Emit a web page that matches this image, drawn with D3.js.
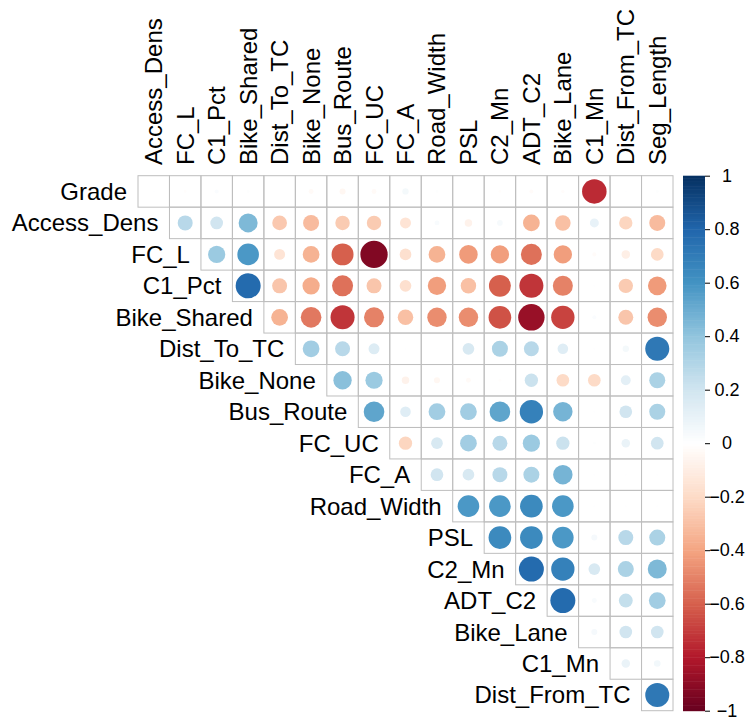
<!DOCTYPE html>
<html>
<head>
<meta charset="utf-8">
<script src="https://cdn.jsdelivr.net/npm/d3@7"></script>
<style>
  body { margin: 0; background: #fff; }
  text { font-family: "Liberation Sans", Arial, sans-serif; fill: #000; }
</style>
</head>
<body>
<div id="chart"></div>
<script>
const rowLabels = ["Grade", "Access_Dens", "FC_L", "C1_Pct", "Bike_Shared", "Dist_To_TC",
  "Bike_None", "Bus_Route", "FC_UC", "FC_A", "Road_Width", "PSL", "C2_Mn", "ADT_C2",
  "Bike_Lane", "C1_Mn", "Dist_From_TC"];
const colLabels = ["Access_Dens", "FC_L", "C1_Pct", "Bike_Shared", "Dist_To_TC", "Bike_None",
  "Bus_Route", "FC_UC", "FC_A", "Road_Width", "PSL", "C2_Mn", "ADT_C2", "Bike_Lane",
  "C1_Mn", "Dist_From_TC", "Seg_Length"];

// correlations, row i holds columns i..16
const corrRows = [
  [0.005, -0.01, 0.02, 0.01, 0.0, -0.03, -0.045, -0.03, 0.05, 0.01, 0.0, -0.01, -0.02, -0.015, -0.75, 0.005, 0.01],
  [0.28, 0.2, 0.45, -0.27, -0.32, -0.26, -0.26, -0.15, 0.03, -0.07, 0.04, -0.35, -0.3, 0.1, -0.22, -0.32],
  [0.37, 0.58, -0.15, -0.35, -0.6, -0.93, -0.17, -0.35, -0.43, -0.42, -0.55, -0.42, -0.02, -0.09, -0.2],
  [0.78, -0.28, -0.37, -0.55, -0.28, -0.17, -0.42, -0.3, -0.6, -0.72, -0.5, 0.005, -0.26, -0.43],
  [-0.35, -0.53, -0.72, -0.5, -0.3, -0.47, -0.47, -0.64, -0.87, -0.68, 0.02, -0.28, -0.47],
  [0.35, 0.28, 0.15, 0.005, 0.003, 0.17, 0.32, 0.28, 0.14, 0.005, 0.05, 0.72],
  [0.42, 0.37, -0.07, -0.045, -0.03, -0.01, 0.22, -0.2, -0.2, 0.12, 0.32],
  [0.53, 0.14, 0.35, 0.35, 0.53, 0.68, 0.47, 0.005, 0.2, 0.32],
  [-0.22, 0.17, 0.35, 0.28, 0.37, 0.22, 0.01, 0.09, 0.2],
  [0.2, 0.17, 0.28, 0.32, 0.47, 0.005, 0.005, 0.005],
  [0.58, 0.58, 0.64, 0.58, 0.005, 0.005, 0.005],
  [0.64, 0.64, 0.58, 0.045, 0.28, 0.32],
  [0.78, 0.68, 0.17, 0.32, 0.45],
  [0.78, 0.03, 0.24, 0.35],
  [0.045, 0.2, 0.2],
  [0.09, 0.055],
  [0.72]
];
const legendTicks = [1, 0.8, 0.6, 0.4, 0.2, 0, -0.2, -0.4, -0.6, -0.8, -1];
const palette = ["#67001F", "#B2182B", "#D6604D", "#F4A582", "#FDDBC7", "#FFFFFF",
  "#D1E5F0", "#92C5DE", "#4393C3", "#2166AC", "#053061"];

const svgWidth = 747;
const svgHeight = 723;

const svg = d3.select("#chart")
  .append("svg")
  .attr("width", svgWidth)
  .attr("height", svgHeight);

const x = d3.scaleBand().domain(colLabels).range([138, 673]);
const y = d3.scaleBand().domain(rowLabels).range([175.7, 710.7]);
const color = d3.scaleLinear()
  .domain(d3.range(11).map((i) => -1 + i * 0.2))
  .range(palette)
  .interpolate(d3.interpolateRgb);

const cells = [];
corrRows.forEach((vals, i) => {
  vals.forEach((v, k) => {
    cells.push({ row: rowLabels[i], col: colLabels[i + k], value: v });
  });
});

const bw = x.bandwidth();

svg.append("g")
  .selectAll("rect")
  .data(cells)
  .enter()
  .append("rect")
  .attr("x", (d) => x(d.col))
  .attr("y", (d) => y(d.row))
  .attr("width", bw)
  .attr("height", y.bandwidth())
  .attr("fill", "none")
  .attr("stroke", "#BEBEBE")
  .attr("stroke-width", 1);

svg.append("g")
  .selectAll("circle")
  .data(cells)
  .enter()
  .append("circle")
  .attr("cx", (d) => x(d.col) + bw / 2)
  .attr("cy", (d) => y(d.row) + y.bandwidth() / 2)
  .attr("r", (d) => 0.45 * bw * Math.sqrt(Math.abs(d.value)))
  .attr("fill", (d) => color(d.value));

// row labels
svg.append("g")
  .selectAll("text")
  .data(rowLabels)
  .enter()
  .append("text")
  .attr("x", (d, i) => x(colLabels[i]) - 11)
  .attr("y", (d) => y(d) + y.bandwidth() / 2)
  .attr("text-anchor", "end")
  .attr("dominant-baseline", "central")
  .style("font-size", "24px")
  .text((d) => d);

// column labels
svg.append("g")
  .selectAll("text")
  .data(colLabels)
  .enter()
  .append("text")
  .attr("transform", (d) => `translate(${x(d) + bw / 2},165) rotate(-90)`)
  .attr("text-anchor", "start")
  .attr("dominant-baseline", "central")
  .style("font-size", "24px")
  .text((d) => d);

// colour legend
const legTop = 175.7;
const legBottom = 710.7;
const ly = d3.scaleLinear().domain([1, -1]).range([legTop, legBottom]);
const steps = d3.range(200).map((i) => -1 + (i + 0.5) * 0.01);

svg.append("g")
  .selectAll("rect")
  .data(steps)
  .enter()
  .append("rect")
  .attr("x", 683)
  .attr("y", (d) => ly(d + 0.005))
  .attr("width", 22)
  .attr("height", ly(-1) - ly(-0.99) + 0.5)
  .attr("fill", (d) => color(d));

const legAxis = svg.append("g")
  .attr("transform", "translate(705,0)")
  .call(d3.axisRight(ly).tickValues(legendTicks).tickSize(5).tickFormat(d3.format("")));
legAxis.select(".domain").remove();
legAxis.selectAll("line").attr("stroke", "#000");
legAxis.selectAll("text")
  .attr("x", 22)
  .attr("text-anchor", "middle")
  .style("font-size", "18px")
  .style("font-family", "Liberation Sans, Arial, sans-serif");
</script>
</body>
</html>
